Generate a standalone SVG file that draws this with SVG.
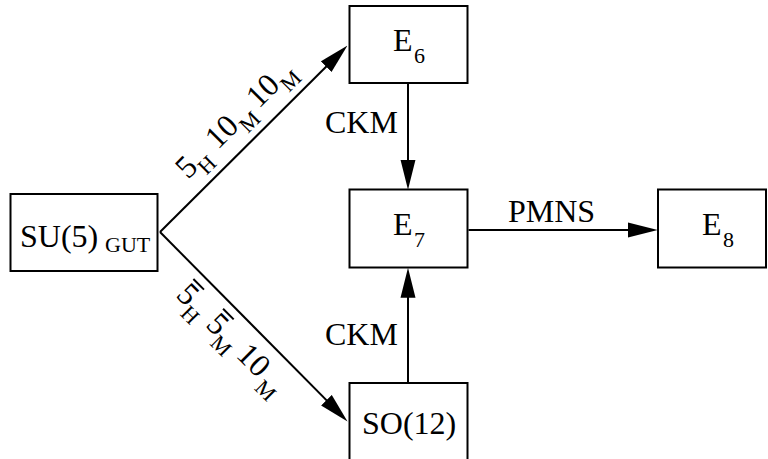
<svg xmlns="http://www.w3.org/2000/svg" width="768" height="459" viewBox="0 0 768 459">
<defs>
<marker id="ah" markerUnits="userSpaceOnUse" markerWidth="30" markerHeight="16" refX="18" refY="7" orient="auto" viewBox="0 0 28 14">
<path d="M0,0 L28,7 L0,14 Z" fill="#000"/>
</marker>
</defs>
<rect width="768" height="459" fill="#fff"/>
<g id="connectors" stroke="#000" stroke-width="2" fill="none">
<path d="M160,232 L339.9,53.05" marker-end="url(#ah)"/>
<path d="M160,232 L340,413.9" marker-end="url(#ah)"/>
<path d="M408,84 L408,179" marker-end="url(#ah)"/>
<path d="M408,382 L408,278.5" marker-end="url(#ah)"/>
<path d="M468.5,230 L647,230" marker-end="url(#ah)"/>
</g>
<text x="325" y="133" font-family="Liberation Serif, serif" font-size="32">CKM</text>
<text x="325" y="345" font-family="Liberation Serif, serif" font-size="32">CKM</text>
<text x="508" y="222" font-family="Liberation Serif, serif" font-size="32">PMNS</text>
<g transform="translate(188,180) rotate(-45)">
<text font-family="Liberation Serif, serif" font-size="32"><tspan x="0" y="0">5</tspan><tspan font-size="22" x="16" y="10">H</tspan><tspan x="42" y="0">10</tspan><tspan font-size="22" x="75" y="10">M</tspan><tspan x="100" y="0">10</tspan><tspan font-size="22" x="133" y="10">M</tspan></text>
</g>
<g transform="translate(175,296) rotate(45)">
<text font-family="Liberation Serif, serif" font-size="32"><tspan x="0" y="0">5</tspan><tspan font-size="22" x="16" y="10">H</tspan><tspan x="42" y="0">5</tspan><tspan font-size="22" x="58" y="10">M</tspan><tspan x="85" y="0">10</tspan><tspan font-size="22" x="121" y="10">M</tspan></text>
<path d="M1,-25 H16 M43,-25 H58" stroke="#000" stroke-width="2"/>
</g>
<g id="su5">
<rect x="10.5" y="194" width="147" height="77" fill="#fff" stroke="#000" stroke-width="2"/>
<text x="20" y="247" font-family="Liberation Serif, serif" font-size="32">SU(5)<tspan font-size="22" x="105" y="252">GUT</tspan></text>
</g>
<g id="e6">
<rect x="349.5" y="6" width="118" height="77" fill="#fff" stroke="#000" stroke-width="2"/>
<text x="393" y="51" font-family="Liberation Serif, serif" font-size="32">E<tspan font-size="22" x="414" y="63">6</tspan></text>
</g>
<g id="e7">
<rect x="349.5" y="189.5" width="118" height="78" fill="#fff" stroke="#000" stroke-width="2"/>
<text x="393" y="235" font-family="Liberation Serif, serif" font-size="32">E<tspan font-size="22" x="414" y="247">7</tspan></text>
</g>
<g id="e8">
<rect x="658" y="189.5" width="108" height="78" fill="#fff" stroke="#000" stroke-width="2"/>
<text x="702" y="235" font-family="Liberation Serif, serif" font-size="32">E<tspan font-size="22" x="723" y="247">8</tspan></text>
</g>
<g id="so12">
<rect x="349.5" y="383" width="118" height="80" fill="#fff" stroke="#000" stroke-width="2"/>
<text x="362" y="434" font-family="Liberation Serif, serif" font-size="32">SO(12)</text>
</g>
</svg>
